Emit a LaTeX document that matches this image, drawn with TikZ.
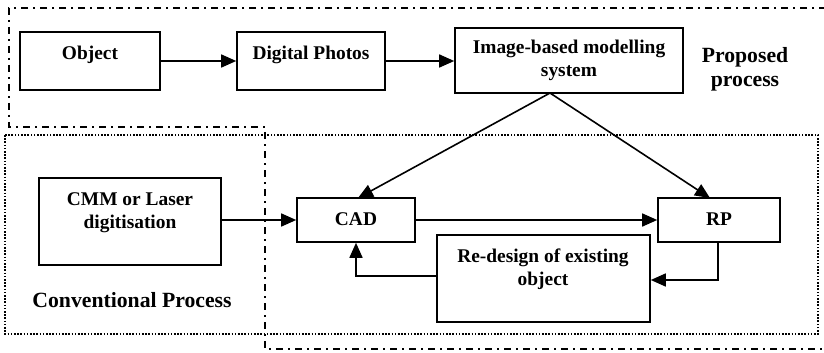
\documentclass[tikz,border=0pt]{standalone}
\usepackage{fontspec}
\setmainfont{Liberation Serif}
\usetikzlibrary{arrows.meta}
\begin{document}
\begin{tikzpicture}[x=0.5pt,y=-0.5pt,
  box/.style={draw,line width=0.8pt,rectangle,inner sep=0pt},
  txt/.style={font=\fontsize{9.7pt}{11.5pt}\selectfont\bfseries,align=center,inner sep=0pt,anchor=base},
  reg/.style={font=\fontsize{10.85pt}{12pt}\selectfont\bfseries,align=center,inner sep=0pt,anchor=base},
  conn/.style={line width=0.8pt,-{Triangle[length=7.5pt,width=6.5pt]}},
  dashdotline/.style={line width=1pt,dash pattern=on 3.5pt off 2.5pt on 1pt off 2.5pt},
  dotline/.style={line width=1pt,dash pattern=on 0.8pt off 0.8pt}]
\useasboundingbox (0,0) rectangle (824,353);
% region outlines
\draw[dashdotline] (826,8) -- (9,8) -- (9,127) -- (265,127) -- (265,349) -- (826,349);
\draw[dotline] (5,135) rectangle (818,334);
% boxes
\node[box,minimum width=70pt,minimum height=29pt] (obj) at (90,61) {};
\node[box,minimum width=74pt,minimum height=29pt] (dig) at (311,61) {};
\node[box,minimum width=114pt,minimum height=32.5pt] (img) at (569,60.5) {};
\node[box,minimum width=91pt,minimum height=43.5pt] (cmm) at (130,221.5) {};
\node[box,minimum width=59pt,minimum height=22pt] (cad) at (356,220) {};
\node[box,minimum width=61pt,minimum height=22pt] (rp) at (719,220) {};
\node[box,minimum width=106.5pt,minimum height=43.5pt] (red) at (543.5,278.5) {};
% texts
\node[txt] (tobj) at (90,60) {Object};
\node[txt] (tdig) at (311,60) {Digital Photos};
\node[txt] (timg) at (569,77) {Image-based modelling\\system};
\node[txt] (tcmm) at (130,228) {CMM or Laser\\digitisation};
\node[txt] (tcad) at (356,225) {CAD};
\node[txt] (trp) at (719,225) {RP};
\node[txt] (tred) at (543,285) {Re-design of existing\\object};
\node[reg] (tprop) at (745,87) {Proposed\\process};
\node[reg] (tconv) at (132,307) {Conventional Process};
% connectors
\coordinate (apex) at (550,93);
\coordinate (cadtop) at (358,198);
\coordinate (rptop) at (710,198);
\coordinate (rpdown) at (718,280);
\coordinate (cadbot) at (356,276);
\draw[conn] (obj.east) -- (dig.west);
\draw[conn] (dig.east) -- (dig.east -| img.west);
\draw[conn] (apex) -- (cadtop);
\draw[conn] (apex) -- (rptop);
\draw[conn] (cmm.east |- cad.west) -- (cad.west);
\draw[conn] (cad.east) -- (rp.west);
\draw[conn] (rp.south -| rpdown) -- (rpdown) -- (rpdown -| red.east);
\draw[conn] (red.west |- cadbot) -- (cadbot) -- (cad.south);
\end{tikzpicture}
\end{document}
